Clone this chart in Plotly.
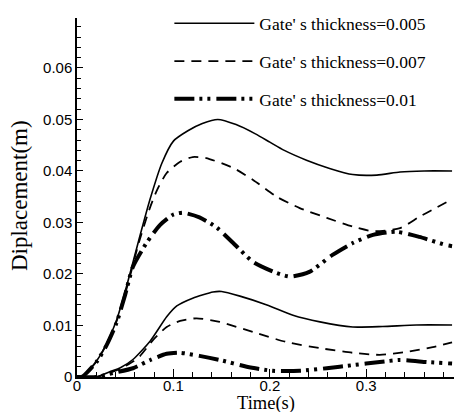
import plotly.graph_objects as go

# Displacement histories for three gate thicknesses (upper and lower response curves)
labels = ["Gate' s thickness=0.005", "Gate' s thickness=0.007", "Gate' s thickness=0.01"]

t_up_005 = [0.000, 0.005, 0.010, 0.021, 0.031, 0.041, 0.052, 0.064, 0.0756, 0.088, 0.100, 0.115, 0.130,
            0.146, 0.165, 0.185, 0.200, 0.215, 0.238, 0.262, 0.286, 0.311, 0.335, 0.360, 0.389]
d_up_005 = [0.0000, 0.0000, 0.0008, 0.0033, 0.0066, 0.0110, 0.0180, 0.0265, 0.0344, 0.0415, 0.0458, 0.0478, 0.0492,
            0.0500, 0.0490, 0.0472, 0.0456, 0.0440, 0.0421, 0.0405, 0.0393, 0.0392, 0.0398, 0.0400, 0.0400]

t_up_007 = [0.000, 0.005, 0.010, 0.021, 0.031, 0.041, 0.052, 0.064, 0.075, 0.083, 0.093, 0.107, 0.120,
            0.134, 0.162, 0.183, 0.207, 0.231, 0.259, 0.286, 0.307, 0.335, 0.355, 0.372, 0.389]
d_up_007 = [0.0000, 0.0000, 0.0008, 0.0032, 0.0065, 0.0108, 0.0175, 0.0260, 0.0325, 0.0363, 0.0396, 0.0418, 0.0427,
            0.0425, 0.0406, 0.0382, 0.0350, 0.0328, 0.0309, 0.0292, 0.0283, 0.0289, 0.0311, 0.0328, 0.0345]

t_up_010 = [0.000, 0.005, 0.010, 0.021, 0.031, 0.041, 0.050, 0.058, 0.072, 0.086, 0.0995, 0.110, 0.127,
            0.145, 0.162, 0.183, 0.207, 0.221, 0.241, 0.265, 0.286, 0.307, 0.331, 0.355, 0.383, 0.389]
d_up_010 = [0.0000, 0.0000, 0.0008, 0.0031, 0.0063, 0.0105, 0.0160, 0.0214, 0.0260, 0.0295, 0.0315, 0.0319, 0.0310,
            0.0290, 0.0260, 0.0223, 0.0202, 0.0195, 0.0204, 0.0237, 0.0260, 0.0276, 0.0282, 0.0272, 0.0256, 0.0254]

t_lo_005 = [0.000, 0.020, 0.034, 0.045, 0.058, 0.076, 0.093, 0.1035, 0.120, 0.141, 0.150, 0.169, 0.197,
            0.224, 0.252, 0.286, 0.317, 0.352, 0.389]
d_lo_005 = [0.0000, 0.0000, 0.0010, 0.0018, 0.0034, 0.0070, 0.0117, 0.0138, 0.0153, 0.0165, 0.0166, 0.0157, 0.0140,
            0.0120, 0.0107, 0.0097, 0.0098, 0.0101, 0.0101]

t_lo_007 = [0.000, 0.020, 0.034, 0.045, 0.058, 0.065, 0.079, 0.093, 0.107, 0.124, 0.148, 0.183, 0.217,
            0.252, 0.286, 0.314, 0.342, 0.369, 0.389]
d_lo_007 = [0.0000, 0.0000, 0.0008, 0.0016, 0.0030, 0.0040, 0.0072, 0.0097, 0.0109, 0.0114, 0.0107, 0.0087, 0.0068,
            0.0056, 0.0047, 0.0043, 0.0049, 0.0058, 0.0067]

t_lo_010 = [0.000, 0.020, 0.038, 0.058, 0.076, 0.093, 0.107, 0.127, 0.148, 0.176, 0.203, 0.231, 0.259,
            0.286, 0.314, 0.335, 0.363, 0.389]
d_lo_010 = [0.0000, 0.0000, 0.0008, 0.0017, 0.0033, 0.0045, 0.0047, 0.0041, 0.0033, 0.0020, 0.0012, 0.0012, 0.0017,
            0.0023, 0.0029, 0.0033, 0.0029, 0.0026]

x_title = "Time(s)"
y_title = "Diplacement(m)"

styles = [
    dict(color="black", width=1.6, dash="solid"),
    dict(color="black", width=1.8, dash="10px,7px"),
    dict(color="black", width=4, dash="20px,5px,3px,5px,3px,6px"),
]

upper = [(t_up_005, d_up_005), (t_up_007, d_up_007), (t_up_010, d_up_010)]
lower = [(t_lo_005, d_lo_005), (t_lo_007, d_lo_007), (t_lo_010, d_lo_010)]

fig = go.Figure()
for i, (t, d) in enumerate(upper):
    fig.add_trace(go.Scatter(x=t, y=d, mode="lines", name=labels[i], legendgroup=f"g{i}",
                             line=dict(shape="spline", smoothing=0.6, **styles[i])))
for i, (t, d) in enumerate(lower):
    fig.add_trace(go.Scatter(x=t, y=d, mode="lines", name=labels[i], legendgroup=f"g{i}",
                             showlegend=False,
                             line=dict(shape="spline", smoothing=0.6, **styles[i])))

serif = "Liberation Serif, Times New Roman, serif"
tick_font = dict(family="Liberation Sans, Arial, sans-serif", size=15, color="black")

fig.update_layout(
    width=454, height=412,
    margin=dict(l=77, r=0, t=18, b=35),
    paper_bgcolor="white", plot_bgcolor="white",
    legend=dict(x=0.245, y=1.035, xanchor="left", yanchor="top",
                font=dict(family=serif, size=17.5, color="black"),
                itemwidth=80, tracegroupgap=12, bgcolor="rgba(0,0,0,0)"),
    xaxis=dict(range=[0, 0.391], dtick=0.1, tick0=0, showgrid=False, zeroline=False,
               showline=True, linecolor="black", linewidth=1.5,
               ticks="inside", ticklen=8, tickwidth=1.2, tickcolor="black",
               minor=dict(dtick=0.02, ticks="inside", ticklen=5, tickwidth=1, tickcolor="black"),
               tickfont=tick_font, ticklabelstandoff=-6),
    yaxis=dict(range=[0, 0.0697], dtick=0.01, tick0=0, showgrid=False, zeroline=False,
               showline=True, linecolor="black", linewidth=1.5,
               ticks="inside", ticklen=6, tickwidth=1.2, tickcolor="black",
               minor=dict(dtick=0.002, ticks="inside", ticklen=4, tickwidth=1, tickcolor="black"),
               tickfont=tick_font),
    annotations=[
        dict(text=x_title, xref="paper", yref="paper", x=0.5, y=0, xanchor="center", yanchor="top",
             yshift=-14, showarrow=False, font=dict(family=serif, size=18.5, color="black")),
        dict(text=y_title, xref="paper", yref="paper", x=0, y=0.504, xanchor="center", yanchor="middle",
             xshift=-58, textangle=-90, showarrow=False, font=dict(family=serif, size=23, color="black")),
    ],
)

fig.write_html("out.html")
